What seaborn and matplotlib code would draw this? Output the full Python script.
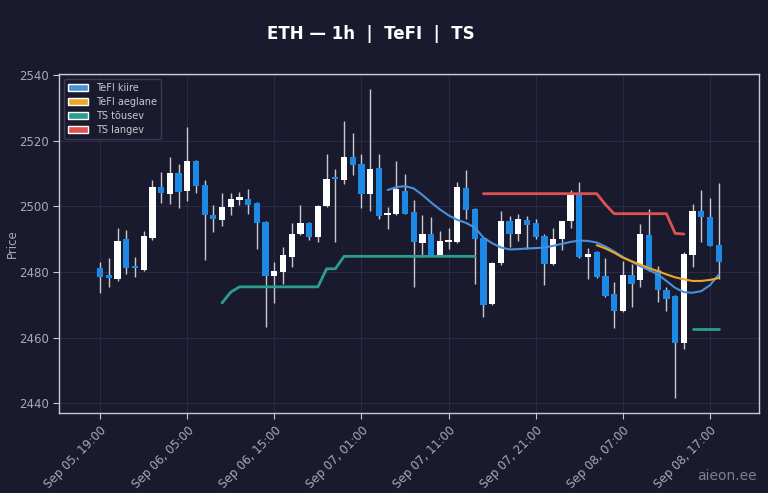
import matplotlib
matplotlib.use("Agg")
import matplotlib.pyplot as plt
from matplotlib.patches import Patch
import numpy as np
import pandas as pd
import seaborn as sns

# OHLC, 1h candles starting Sep 05 19:00
opens = [2481.2, 2479.0, 2478.0, 2490.0, 2481.6, 2480.5, 2490.5, 2506.0, 2503.7, 2510.3,
         2504.7, 2513.9, 2506.5, 2497.3, 2496.0, 2499.7, 2502.1, 2502.4, 2501.0, 2495.3,
         2478.7, 2480.0, 2484.6, 2491.5, 2495.0, 2490.7, 2500.0, 2508.6, 2508.0, 2515.0,
         2512.9, 2503.9, 2511.7, 2497.3, 2497.8, 2504.6, 2498.3, 2489.0, 2491.5, 2484.9,
         2489.2, 2489.2, 2505.6, 2499.1, 2490.4, 2470.4, 2482.9, 2495.5, 2491.7, 2496.0,
         2495.0, 2490.9, 2482.6, 2490.0, 2495.5, 2503.6, 2484.6, 2486.0, 2478.8, 2473.4,
         2468.0, 2479.2, 2477.5, 2491.4, 2480.5, 2474.4, 2472.7, 2458.5, 2485.3, 2498.5,
         2496.8, 2488.4]
highs = [2483.1, 2484.2, 2493.4, 2492.7, 2484.6, 2492.5, 2508.0, 2510.5, 2515.0, 2513.0,
         2524.2, 2514.2, 2508.0, 2500.4, 2504.0, 2504.0, 2504.4, 2505.2, 2501.5, 2495.5,
         2483.1, 2487.5, 2495.0, 2500.4, 2495.3, 2500.4, 2516.0, 2511.3, 2526.0, 2522.5,
         2516.0, 2535.7, 2516.0, 2499.9, 2513.8, 2510.0, 2502.0, 2497.3, 2496.8, 2492.5,
         2493.4, 2507.5, 2511.0, 2499.4, 2490.6, 2483.2, 2498.5, 2497.1, 2497.8, 2497.1,
         2496.3, 2491.7, 2493.4, 2495.5, 2505.0, 2507.5, 2487.3, 2486.3, 2484.3, 2477.0,
         2483.5, 2482.6, 2494.8, 2499.1, 2482.0, 2475.5, 2472.9, 2486.1, 2500.9, 2505.0,
         2502.6, 2507.3]
lows = [2473.6, 2475.4, 2477.3, 2479.3, 2478.5, 2480.2, 2489.7, 2501.0, 2500.7, 2499.4,
        2501.7, 2504.0, 2483.8, 2492.2, 2494.0, 2497.3, 2500.4, 2497.6, 2486.9, 2463.3,
        2470.6, 2476.3, 2481.4, 2491.2, 2489.9, 2489.2, 2499.8, 2489.2, 2507.0, 2509.5,
        2499.6, 2498.5, 2496.3, 2493.0, 2497.5, 2497.6, 2475.5, 2484.6, 2484.8, 2484.8,
        2487.0, 2489.0, 2496.2, 2476.5, 2466.3, 2470.0, 2482.3, 2487.7, 2489.4, 2487.0,
        2490.2, 2476.2, 2482.3, 2486.6, 2493.3, 2484.4, 2478.0, 2478.3, 2472.5, 2463.0,
        2467.8, 2469.4, 2475.5, 2480.3, 2470.9, 2468.0, 2441.6, 2456.5, 2481.6, 2489.2,
        2487.8, 2478.0]
closes = [2478.4, 2478.3, 2489.5, 2481.1, 2481.2, 2491.0, 2506.0, 2504.0, 2510.3, 2504.4,
          2513.8, 2506.2, 2497.3, 2496.3, 2499.7, 2502.4, 2502.5, 2500.4, 2495.0, 2478.7,
          2480.2, 2485.1, 2491.7, 2495.0, 2490.7, 2500.0, 2508.5, 2508.3, 2515.0, 2512.6,
          2503.9, 2511.3, 2497.1, 2498.1, 2505.2, 2497.8, 2489.2, 2491.5, 2484.9, 2489.4,
          2489.7, 2506.0, 2498.9, 2490.2, 2469.9, 2482.9, 2495.5, 2491.7, 2496.3, 2494.5,
          2490.7, 2482.6, 2490.0, 2495.5, 2503.6, 2484.6, 2485.6, 2478.5, 2472.7, 2468.0,
          2479.2, 2476.5, 2491.7, 2480.5, 2474.4, 2471.7, 2458.5, 2485.6, 2498.5, 2496.8,
          2488.0, 2483.1]

# indicator lines: (start index, values)
tefi_kiire_start = 33
tefi_kiire = [2505.0, 2505.9, 2506.2, 2505.5, 2503.5, 2501.2, 2499.1, 2497.3, 2495.9, 2495.0,
              2493.6, 2490.5, 2488.8, 2487.5, 2486.9, 2487.0, 2487.2, 2487.3, 2487.5, 2488.0,
              2488.6, 2489.2, 2489.6, 2489.5, 2489.0, 2487.8, 2486.3, 2484.6, 2483.2, 2481.8,
              2480.6, 2479.3, 2477.3, 2475.2, 2473.9, 2473.7, 2474.2, 2476.0, 2479.2]
tefi_aeglane_start = 57
tefi_aeglane = [2488.2, 2487.2, 2485.9, 2484.4, 2483.3, 2482.3, 2481.2, 2480.3, 2479.3, 2478.4,
                2477.8, 2477.3, 2477.3, 2477.6, 2478.2]
ts_tousev_segments = [
    (14, [2470.6, 2473.9, 2475.5, 2475.5, 2475.5, 2475.5, 2475.5, 2475.5, 2475.5, 2475.5,
          2475.5, 2475.5, 2481.0, 2481.0, 2484.8, 2484.8, 2484.8, 2484.8, 2484.8, 2484.8,
          2484.8, 2484.8, 2484.8, 2484.8, 2484.8, 2484.8, 2484.8, 2484.8, 2484.8, 2484.8]),
    (68, [2462.8, 2462.8, 2462.8, 2462.8]),
]
ts_langev_start = 44
ts_langev = [2503.9, 2503.9, 2503.9, 2503.9, 2503.9, 2503.9, 2503.9, 2503.9, 2503.9, 2503.9,
             2503.9, 2503.9, 2503.9, 2503.9, 2500.6, 2497.8, 2497.8, 2497.8, 2497.8, 2497.8,
             2497.8, 2497.8, 2491.8, 2491.6]

tick_pos = [0, 10, 20, 30, 40, 50, 60, 70]
tick_labels = ["Sep 05, 19:00", "Sep 06, 05:00", "Sep 06, 15:00", "Sep 07, 01:00",
               "Sep 07, 11:00", "Sep 07, 21:00", "Sep 08, 07:00", "Sep 08, 17:00"]

bg = "#1a1a2e"
grid_c = "#2a2a44"
txt_c = "#a9a9b8"
up_c = "#ffffff"
down_c = "#1e88e5"
colors = {"TeFI kiire": "#4a90d9", "TeFI aeglane": "#e9a825",
          "TS tõusev": "#2a9d8f", "TS langev": "#e05252"}

sns.set_theme(style="darkgrid", rc={
    "axes.facecolor": bg, "figure.facecolor": bg, "grid.color": grid_c,
    "axes.edgecolor": "#c9c9d2", "xtick.color": txt_c, "ytick.color": txt_c,
    "axes.labelcolor": txt_c, "text.color": "white", "grid.linewidth": 0.8,
})
plt.rcParams["font.family"] = ["DejaVu Sans"]

# long table of indicator lines
rows = []
def add(name, start, vals, seg):
    for k, v in enumerate(vals):
        rows.append({"idx": start + k, "price": v, "series": name, "seg": f"{name}{seg}"})

add("TeFI kiire", tefi_kiire_start, tefi_kiire, 0)
add("TeFI aeglane", tefi_aeglane_start, tefi_aeglane, 0)
for n, (s, vals) in enumerate(ts_tousev_segments):
    add("TS tõusev", s, vals, n)
add("TS langev", ts_langev_start, ts_langev, 0)
lines = pd.DataFrame(rows)

fig = plt.figure(figsize=(7.68, 4.93), dpi=100)
ax = fig.add_axes([0.077, 0.162, 0.911, 0.688])

x = np.arange(len(opens))
o = np.array(opens); c = np.array(closes)
h = np.array(highs); l = np.array(lows)
up = c >= o
ax.vlines(x, l, h, color="#c8c8d0", linewidth=1.0, zorder=2)
body = np.maximum(np.abs(c - o), 0.7)
bottom = np.minimum(o, c)
ax.bar(x, body, bottom=bottom, width=0.72,
       color=np.where(up, up_c, down_c), linewidth=0, zorder=3)

lw = {"TeFI kiire": 1.5, "TeFI aeglane": 1.5, "TS tõusev": 2.0, "TS langev": 2.0}
for name, sub in lines.groupby("series", sort=False):
    sns.lineplot(data=sub, x="idx", y="price", units="seg", estimator=None,
                 color=colors[name], linewidth=lw[name], ax=ax, zorder=4,
                 legend=False, solid_capstyle="round", solid_joinstyle="round")

ax.set_xlim(-4.7, 75.6)
ax.set_ylim(2437.0, 2540.4)
ax.set_yticks([2440, 2460, 2480, 2500, 2520, 2540])
ax.set_xticks(tick_pos)
ax.set_xticklabels(tick_labels, rotation=45, ha="right", rotation_mode="anchor")
ax.tick_params(axis="both", labelsize=8.5, length=4, color="#c9c9d2", width=0.8,
               bottom=True, left=True)
ax.set_xlabel("")
ax.set_ylabel("Price", fontsize=8.5)
ax.yaxis.set_label_coords(-0.058, 0.5)
for sp in ax.spines.values():
    sp.set_linewidth(1.0)
    sp.set_color("#c9c9d2")

handles = [Patch(facecolor=colors[k], label=k) for k in colors]
leg = ax.legend(handles=handles, loc="upper left", fontsize=7, frameon=True,
                facecolor=bg, edgecolor="#3a3a55", framealpha=1.0,
                handlelength=2.0, handleheight=0.75, borderpad=0.45, labelspacing=0.4)
for t in leg.get_texts():
    t.set_color("#c9c9d2")

fig.suptitle("ETH — 1h  |  TeFI  |  TS", x=0.483, y=0.95, fontsize=12,
             fontweight="bold", color="white")
fig.text(0.986, 0.02, "aieon.ee", ha="right", va="bottom", fontsize=10,
         color="#8a8a96", alpha=0.9)

fig.savefig("out.png", dpi=100, facecolor=bg)
